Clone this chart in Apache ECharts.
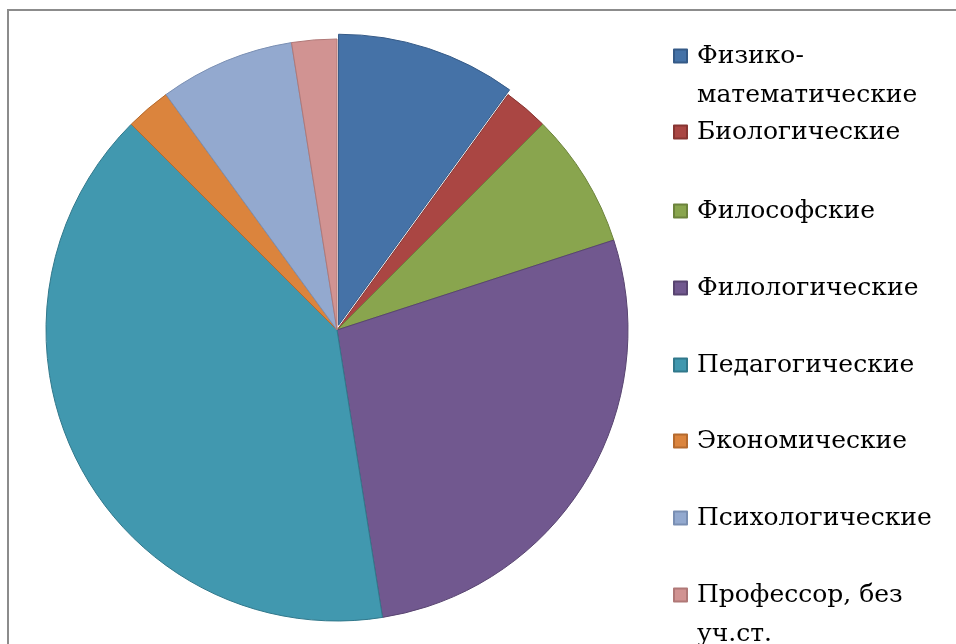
<!DOCTYPE html>
<html>
<head>
<meta charset="utf-8">
<script src="https://cdn.jsdelivr.net/npm/echarts@6/dist/echarts.min.js"></script>
<style>html,body{margin:0;padding:0;background:#fff}#c{width:956px;height:644px}</style>
</head>
<body>
<div id="c"></div>
<script>
const categories = ['Физико-\nматематические','Биологические','Философские','Филологические','Педагогические','Экономические','Психологические','Профессор, без\nуч.ст.'];
const values = [4, 1, 3, 11, 16, 1, 3, 1];
const colors = ['#4572A7','#AA4643','#89A54E','#71588F','#4198AF','#DB843D','#93A9CF','#D19392'];
const borders = ['#355a87','#873532','#6c833c','#584470','#31788b','#b56a2e','#7a8fb3','#b07877'];
const legendCenters = [56, 132, 211, 288, 365, 441, 518, 595];

const LH = 39;
const legends = categories.map((name, i) => {
  const multi = name.indexOf('\n') >= 0;
  return {
    data: [name],
    orient: 'vertical',
    left: 673,
    top: multi ? legendCenters[i] - 1.5 * LH : legendCenters[i] - LH / 2,
    padding: 0,
    itemWidth: 13,
    itemHeight: 13,
    icon: 'rect',
    selectedMode: false,
    formatter: n => multi ? ' \n' + n : n,
    textStyle: { fontFamily: 'DejaVu Serif', fontSize: 25, color: '#000', lineHeight: LH, padding: [0,0,0,5] }
  };
});

const chart = echarts.init(document.getElementById('c'), null, { renderer: 'canvas' });
chart.setOption({
  animation: false,
  color: colors,
  graphic: [{
    type: 'rect', shape: { x: 8, y: 10, width: 1200, height: 900 },
    style: { fill: 'none', stroke: '#8c8c8c', lineWidth: 2 }, silent: true
  }],
  legend: legends,
  series: [{
    type: 'pie',
    center: [337, 330],
    radius: [0, 291],
    startAngle: 90,
    clockwise: true,
    selectedMode: 'multiple',
    selectedOffset: 5,
    label: { show: false },
    labelLine: { show: false },
    emphasis: { disabled: true },
    data: categories.map((name, i) => ({
      name: name,
      value: values[i],
      selected: i === 0,
      itemStyle: { color: colors[i], borderColor: borders[i], borderWidth: 1 }
    }))
  }]
});
</script>
</body>
</html>
